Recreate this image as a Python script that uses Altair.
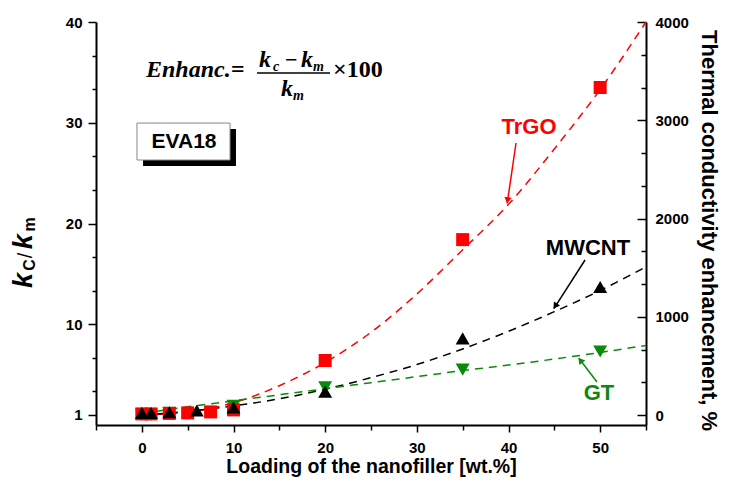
import altair as alt
import pandas as pd

# ---------------- data ----------------
trgo_x = [0, 1, 3, 5, 7.5, 10, 20, 35, 50]
trgo_y = [1.1, 1.1, 1.15, 1.2, 1.3, 1.5, 6.4, 18.4, 33.5]
mwcnt_x = [0, 1, 3, 6, 10, 20, 35, 50]
mwcnt_y = [1.2, 1.2, 1.27, 1.44, 1.75, 3.3, 8.6, 13.7]
gt_x = [0, 1, 3, 10, 20, 35, 50]
gt_y = [1.0, 1.0, 1.2, 1.9, 3.75, 5.5, 7.3]

fit_x = [0, 5, 10, 15, 20, 25, 30, 35, 40, 45, 50, 55]
trgo_fit = [1.0, 1.3, 2.2, 3.9, 6.2, 9.2, 13.0, 17.4, 21.9, 27.4, 33.3, 40.0]
mwcnt_fit = [1.0, 1.35, 1.9, 2.6, 3.55, 4.7, 6.0, 7.55, 9.3, 11.25, 13.35, 15.7]
gt_fit = [1.15, 1.8, 2.4, 3.0, 3.6, 4.2, 4.8, 5.4, 5.95, 6.55, 7.2, 7.9]

x_ticks = [-5, 0, 5, 10, 15, 20, 25, 30, 35, 40, 45, 50, 55]
y_ticks = [1, 3.333, 6.667, 10, 13.333, 16.667, 20, 23.333, 26.667, 30, 33.333, 36.667, 40]
e_ticks = [0, 333.3, 666.7, 1000, 1333.3, 1666.7, 2000, 2333.3, 2666.7, 3000, 3333.3, 3666.7, 4000]

RED = "#ff0000"
GREEN = "#0a8a0a"
SANS = "Liberation Sans"
SERIF = "Liberation Serif"

XS = alt.Scale(domain=[-5, 55], nice=False, zero=False)
YS = alt.Scale(domain=[0, 40], nice=False, zero=False)

major_y = "datum.value == 1 || datum.value % 10 == 0"
X_AXIS = alt.Axis(
    values=x_ticks,
    title="Loading of the nanofiller [wt.%]",
    tickSize={"condition": {"test": "datum.value % 10 == 0", "value": 7}, "value": 5},
    labelExpr="datum.value % 10 == 0 ? datum.label : ''",
    labelPadding=8, labelFlush=False, labelOverlap=False,
    titlePadding=2, titleFontSize=19.5, grid=False,
)
Y_AXIS = alt.Axis(
    values=y_ticks, title=None,
    tickSize={"condition": {"test": major_y, "value": 8}, "value": 4},
    labelExpr=f"{major_y} ? datum.label : ''",
    labelPadding=6, labelOverlap=False, grid=False,
)


def ex(field="x"):
    return alt.X(f"{field}:Q", scale=XS, axis=X_AXIS)


def ey(field="y"):
    return alt.Y(f"{field}:Q", scale=YS, axis=Y_AXIS)


# ---------------- fitted dashed curves ----------------
fits = pd.DataFrame({
    "x": fit_x * 3,
    "y": trgo_fit + mwcnt_fit + gt_fit,
    "s": ["TrGO"] * len(fit_x) + ["MWCNT"] * len(fit_x) + ["GT"] * len(fit_x),
})
lines = alt.Chart(fits).mark_line(
    strokeDash=[8, 6], strokeWidth=1.5, interpolate="monotone"
).encode(
    x=ex(), y=ey(),
    color=alt.Color("s:N", scale=alt.Scale(domain=["TrGO", "MWCNT", "GT"],
                                            range=[RED, "#000000", GREEN]), legend=None),
    detail="s:N",
)

gt_pts = alt.Chart(pd.DataFrame({"x": gt_x, "y": gt_y})).mark_point(
    shape="triangle-down", filled=True, size=196, color=GREEN, opacity=1
).encode(x=ex(), y=ey())
trgo_pts = alt.Chart(pd.DataFrame({"x": trgo_x, "y": trgo_y})).mark_point(
    shape="square", filled=True, size=169, color=RED, opacity=1
).encode(x=ex(), y=ey())
mwcnt_pts = alt.Chart(pd.DataFrame({"x": mwcnt_x, "y": mwcnt_y})).mark_point(
    shape="triangle-up", filled=True, size=196, color="#000000", opacity=1
).encode(x=ex(), y=ey())


# ---------------- annotations ----------------
def txt(text, x, y, **mk):
    d = pd.DataFrame({"x": [x], "y": [y], "t": [text]})
    return alt.Chart(d).mark_text(**mk).encode(x=ex(), y=ey(), text="t:N")


def seg(x1, y1, x2, y2, color, width):
    d = pd.DataFrame({"x": [x1], "y": [y1], "x2": [x2], "y2": [y2]})
    return alt.Chart(d).mark_rule(color=color, strokeWidth=width).encode(
        x=ex(), y=ey(), x2="x2:Q", y2="y2:Q")


def head(x, y, angle, color):
    d = pd.DataFrame({"x": [x], "y": [y]})
    return alt.Chart(d).mark_point(shape="triangle-up", filled=True, size=55,
                                   color=color, opacity=1, angle=angle).encode(x=ex(), y=ey())


eq_main = dict(font=SERIF, fontWeight="bold", fontStyle="italic", align="left",
               baseline="alphabetic", color="black")
eq_up = dict(font=SERIF, fontWeight="bold", align="left", baseline="alphabetic", color="black")
rot = dict(angle=270, align="left", baseline="alphabetic", color="black", font=SANS)

annotations = [
    # EVA18 box with shadow
    alt.Chart(pd.DataFrame({"x": [0.13], "x2": [10.27], "y": [29.38], "y2": [25.71]}))
    .mark_rect(color="black").encode(x=ex(), x2="x2:Q", y=ey(), y2="y2:Q"),
    alt.Chart(pd.DataFrame({"x": [-0.53], "x2": [9.62], "y": [29.97], "y2": [26.30]}))
    .mark_rect(fill="white", stroke="#888888", strokeWidth=1).encode(x=ex(), x2="x2:Q", y=ey(), y2="y2:Q"),
    txt("EVA18", 4.6, 28.09, font=SANS, fontWeight="bold", fontSize=21, color="black",
        align="center", baseline="middle"),
    # equation
    txt("Enhanc.=", 0.455, 34.54, fontSize=24, **eq_main),
    txt("k", 12.78, 35.53, fontSize=24, **eq_main),
    txt("c", 14.31, 35.14, fontSize=14, **eq_main),
    txt("\u2212", 15.62, 35.53, fontSize=22, **eq_up),
    txt("k", 17.36, 35.53, fontSize=24, **eq_main),
    txt("m", 18.67, 35.14, fontSize=14, **eq_main),
    alt.Chart(pd.DataFrame({"x": [12.56], "x2": [20.53], "y": [34.94]}))
    .mark_rule(color="black", strokeWidth=1.5).encode(x=ex(), x2="x2:Q", y=ey()),
    txt("k", 15.18, 32.66, fontSize=24, **eq_main),
    txt("m", 16.49, 32.26, fontSize=14, **eq_main),
    txt("\u00d7100", 20.85, 34.54, fontSize=24, **eq_up),
    # series labels and arrows
    txt("TrGO", 42.24, 29.58, font=SANS, fontWeight="bold", fontSize=22, color=RED,
        align="center", baseline="middle"),
    txt("MWCNT", 48.67, 17.57, font=SANS, fontWeight="bold", fontSize=22, color="black",
        align="center", baseline="middle"),
    txt("GT", 49.87, 3.18, font=SANS, fontWeight="bold", fontSize=22, color=GREEN,
        align="center", baseline="middle"),
    seg(40.82, 27.99, 39.86, 22.0, RED, 1.5),
    head(39.9, 22.3, 188, RED),
    seg(48.35, 16.38, 44.95, 11.55, "black", 1.5),
    head(45.1, 11.8, 213, "black"),
    seg(49.65, 4.27, 47.7, 6.6, GREEN, 1.5),
    head(47.84, 6.43, 323, GREEN),
    # left axis title  k_C / k_m  (rotated)
    txt("k", -12.0, 13.60, fontWeight="bold", fontStyle="italic", fontSize=27, **rot),
    txt("C", -11.7, 15.30, fontWeight="bold", fontSize=16, **rot),
    txt("/", -12.0, 16.55, fontSize=20, **rot),
    txt("k", -12.0, 17.45, fontWeight="bold", fontStyle="italic", fontSize=27, **rot),
    txt("m", -11.7, 19.20, fontWeight="bold", fontSize=16, **rot),
]

main = alt.layer(lines, gt_pts, trgo_pts, mwcnt_pts, *annotations)

# ---------------- right axis (enhancement, %) ----------------
right = alt.Chart(pd.DataFrame({"e": [0]})).mark_point(opacity=0).encode(
    y=alt.Y("e:Q", scale=alt.Scale(domain=[-100, 4000], nice=False, zero=False),
            axis=alt.Axis(
                orient="right", values=e_ticks, format="d",
                title="Thermal conductivity enhancement, %",
                tickSize={"expr": "datum.value % 1000 == 0 ? -9 : -5"},
                labelExpr="datum.value % 1000 == 0 ? datum.label : ''",
                labelPadding=18, labelOverlap=False, grid=False,
                titleAngle=90, titleFontSize=22, titlePadding=8, titleY=208,
            ))
)

chart = alt.layer(main, right).resolve_scale(y="independent").properties(
    width=550, height=403,
    autosize=alt.AutoSizeParams(type="none"),
    padding={"left": 88, "top": 14, "right": 80, "bottom": 57},
).configure_view(stroke=None).configure_axis(
    domainColor="black", domainWidth=2, tickColor="black", tickWidth=1.5,
    labelFont=SANS, labelFontWeight="bold", labelFontSize=15, labelColor="black",
    titleFont=SANS, titleFontWeight="bold", titleFontSize=18, titleColor="black",
)

chart.save("out.html", embed_options={"renderer": "svg", "actions": False})
